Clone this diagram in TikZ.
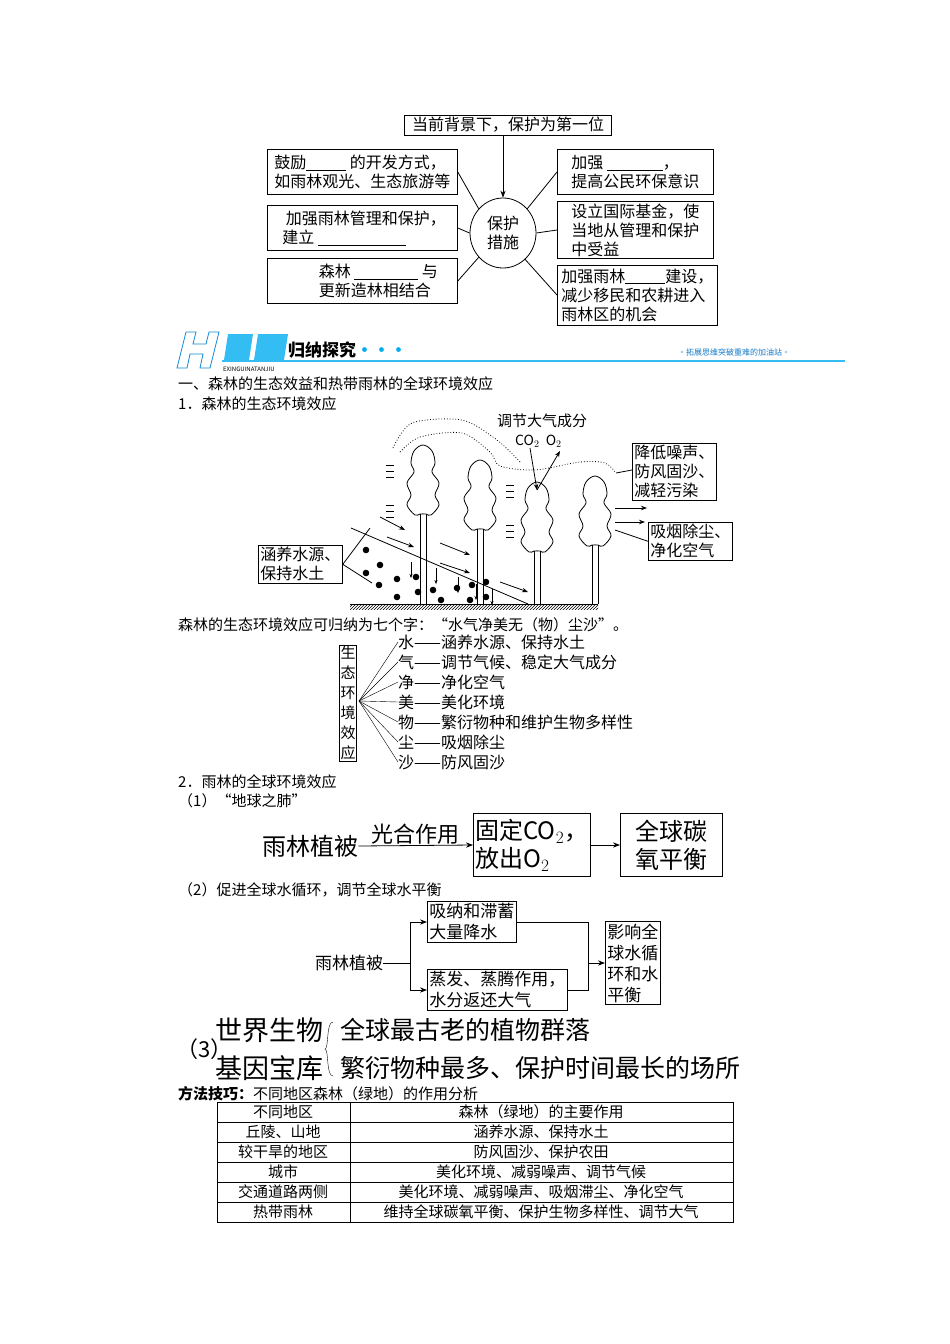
\documentclass[tikz,border=0pt]{standalone}
\usepackage{fontspec}
\setmainfont{Noto Sans CJK SC}
\usetikzlibrary{arrows.meta,shapes.geometric,patterns}
\newcommand\blank[1]{\rule[-2pt]{#1pt}{0.6pt}}
\newcommand\drawtree[3]{%
\begin{scope}[shift={(#1,#2)}]
\draw[thick] plot[smooth cycle,tension=0.6] coordinates{(0,0)(9,6)(12,18)(9,27)(16,38)(12,50)(16,60)(8,70)(3,69)(-3,69)(-8,70)(-16,60)(-12,50)(-16,38)(-9,27)(-12,18)(-9,6)};
\draw[thick] (-3,69)--(-3,#3) (3,69)--(3,#3);
\end{scope}}
\begin{document}
\begin{tikzpicture}[x=1pt,y=-1pt,
 bx/.style={draw,thick,inner sep=2pt,font=\fontsize{16}{19}\selectfont,align=left},
 tx/.style={anchor=west,inner sep=0pt,font=\fontsize{15}{17}\selectfont},
 big/.style={draw,thick,font=\fontsize{24}{28}\selectfont,align=left,inner sep=2pt},
 arr/.style={-{Stealth[length=7pt]},thick}]
\useasboundingbox[fill=white] (0,0) rectangle (950,1344);
% ---- top diagram
\node[bx,minimum width=207pt,minimum height=20pt] (top) at (508,125) {当前背景下，保护为第一位};
\node[draw,thick,ellipse,minimum width=66pt,minimum height=70pt,inner sep=0pt,align=center,font=\fontsize{16}{19}\selectfont] (c) at (503,233) {保护\\措施};
\draw[arr] (top.south -| c) -- (c.north);
\node[bx,minimum width=190pt,minimum height=45pt,anchor=west] (l1) at (267,172) {鼓励\blank{40} 的开发方式，\\如雨林观光、生态旅游等};
\node[bx,minimum width=190pt,minimum height=45pt,anchor=west] (l2) at (267,228) {\ \ 加强雨林管理和保护，\\ \ 建立\ \blank{88}};
\node[bx,minimum width=190pt,minimum height=45pt,anchor=west] (l3) at (267,281) {\qquad 森林\ \blank{64}\ 与\\\qquad 更新造林相结合};
\node[bx,minimum width=156pt,minimum height=45pt,anchor=west] (r1) at (557,172) {加强\ \blank{56}，\\提高公民环保意识};
\node[bx,minimum width=156pt,minimum height=56pt,anchor=west] (r2) at (557,230) {设立国际基金，使\\当地从管理和保护\\中受益};
\node[bx,minimum width=160pt,minimum height=60pt,anchor=west] (r3) at (557,295) {加强雨林\blank{40}建设，\\减少移民和农耕进入\\雨林区的机会};
\draw[thick] (l1.east)--(c.135) (l2.east)--(c.west) (l3.east)--(c.225)
 (r1.west)--(c.45) (r2.west)--(c.east) (r3.west)--(c.-50);
% ---- banner
\draw[cyan!70!blue,thick] (186,332)--(196,332)--(193,344)--(206,344)--(209,332)--(219,332)--(210,368)--(200,368)--(203,354)--(190,354)--(187,368)--(177,368)--cycle;
\fill[cyan!80!white] (228,334) -- (253,334) -- (249,360) -- (224,360) -- cycle;
\fill[cyan!80!white] (258,334) -- (288,334) -- (284,360) -- (254,360) -- cycle;
\node[tx,font=\fontsize{17}{17}\selectfont\bfseries\itshape] (b1) at (288,350) {归纳探究\textcolor{cyan}{•••}};
\draw[cyan!80!white,line width=1.6pt] (222,361) -- (845,361);
\node[tx,font=\fontsize{6}{6}\selectfont\itshape] (b2) at (223,369) {EXINGUINATANJIU};
\node[tx,font=\fontsize{8}{8}\selectfont\itshape,text=cyan!60!blue] (b3) at (678,352) {◦拓展思维突破重难的加油站◦};
% ---- section 1 text
\node[tx] (s1) at (178,384) {一、森林的生态效益和热带雨林的全球环境效应};
\node[tx] (s2) at (178,404) {1．森林的生态环境效应};
% ---- forest drawing
\draw[dotted,thick] plot[smooth] coordinates{(393,448)(412,423)(462,420)(497,440)(520,462)};
\draw[dotted,thick] plot[smooth] coordinates{(400,452)(420,437)(462,433)(490,452)(500,466)(535,470)(580,462)(605,463)(616,473)};
\fill[pattern=north east lines] (350,604) rectangle (598,609);
\draw[thick] (350,604)--(598,604);
\draw[thick] (351,528)--(528,604);
\drawtree{423}{445}{160}
\drawtree{480}{460}{144}
\drawtree{537}{482}{122}
\drawtree{595}{476}{128}
\foreach \p in {(366,550),(380,565),(366,573),(379,585),(397,579),(416,577),(397,597),(418,592),(433,590),(441,600),(457,588),(472,585),(470,600),(486,597),(486,582)} \fill \p circle (3.3);
\foreach \x/\y in {411/578,436/584,458/593,476/600,492/605} {\draw[-{Stealth[length=4pt]}] (\x,\y-16)--(\x,\y);}
\foreach \a/\b/\c/\d in {380/517/405/530,387/537/414/547,440/543/470/555,440/563/470/573,500/582/528/592} \draw[-{Stealth[length=6pt]},thick] (\a,\b)--(\c,\d);
\foreach \x/\y in {390/465,390/505,510/485,510/525} {\draw (\x-4,\y)--(\x+4,\y) (\x-4,\y+6)--(\x+4,\y+6) (\x-4,\y+12)--(\x+4,\y+12);}
\node[tx,font=\fontsize{15}{17}\selectfont] (g1) at (497,421) {调节大气成分};
\node[tx,font=\fontsize{14}{16}\selectfont] (g2) at (515,441) {CO$_2$\ \ O$_2$};
\draw[-{Stealth[length=6pt]},thick] (530,448)--(537,490);
\draw[-{Stealth[length=6pt]},thick] (537,490)--(560,451);
\node[bx,anchor=north west,font=\fontsize{16}{19}\selectfont] (n1) at (632,443) {降低噪声、\\防风固沙、\\减轻污染};
\node[bx,anchor=north west,font=\fontsize{16}{19}\selectfont] (n2) at (648,522) {吸烟除尘、\\净化空气};
\node[bx,anchor=north west,font=\fontsize{16}{19}\selectfont] (n3) at (258,545) {涵养水源、\\保持水土};
\draw[thick] (616,473)--(n1.west|-616,470);
\draw[-{Stealth[length=6pt]},thick] (615,508)--(647,508);
\draw[-{Stealth[length=6pt]},thick] (615,522)--(645,522);
\draw[thick] (615,530)--(n2.west);
\draw[thick] (n3.east)--(370,528) (n3.east)--(372,583);
% ---- 7 characters
\node[tx] (s3) at (178,625) {森林的生态环境效应可归纳为七个字：“水气净美无（物）尘沙”。};
\node[draw,thick,inner sep=1pt,align=center,font=\fontsize{15}{20}\selectfont] (v) at (348,703) {生\\态\\环\\境\\效\\应};
\coordinate (f) at (359,701);
\foreach \i/\t in {0/水——涵养水源、保持水土,1/气——调节气候、稳定大气成分,2/净——净化空气,3/美——美化环境,4/物——繁衍物种和维护生物多样性,5/尘——吸烟除尘,6/沙——防风固沙} {
 \node[tx,font=\fontsize{16}{18}\selectfont] (e\i) at (398,642+20*\i) {\t};
 \draw (f) -- (e\i.west);}
% ---- section 2
\node[tx] (s4) at (178,782) {2．雨林的全球环境效应};
\node[tx] (s5) at (178,801) {（1）“地球之肺”};
\node[tx,font=\fontsize{24}{26}\selectfont] (p1) at (262,846) {雨林植被};
\node[big,minimum width=115pt,minimum height=63pt,anchor=west] (p2) at (473,845) {固定CO$_2$，\\放出O$_2$};
\node[big,minimum width=102pt,minimum height=63pt,anchor=west,align=center] (p3) at (620,845) {全球碳\\氧平衡};
\draw[arr] (p1.east)--(p2.west) node[midway,above,font=\fontsize{22}{24}\selectfont,inner sep=1pt] {光合作用};
\draw[arr] (p2.east)--(p3.west);
\node[tx] (s6) at (178,890) {（2）促进全球水循环，调节全球水平衡};
\node[tx,font=\fontsize{17}{19}\selectfont] (w0) at (315,963) {雨林植被};
\node[bx,anchor=west,font=\fontsize{17}{21}\selectfont] (w1) at (427,922) {吸纳和滞蓄\\大量降水};
\node[bx,anchor=west,font=\fontsize{17}{21}\selectfont] (w2) at (427,990) {蒸发、蒸腾作用，\\水分返还大气};
\node[bx,anchor=west,font=\fontsize{17}{21}\selectfont] (w3) at (605,963) {影响全\\球水循\\环和水\\平衡};
\draw[thick] (w0.east)--(410,963);
\draw[arr] (410,963)|-(w1.west);
\draw[arr] (410,963)|-(w2.west);
\draw[thick] (w1.east)-|(588,963) (w2.east)-|(588,963);
\draw[arr] (588,963)--(w3.west);
\node[tx,font=\fontsize{22}{24}\selectfont] (t0) at (176,1049) {（3）};
\node[tx,font=\fontsize{27}{29}\selectfont] (t1) at (215,1030) {世界生物};
\node[tx,font=\fontsize{27}{29}\selectfont] (t2) at (215,1068) {基因宝库};
\draw (333,1022) .. controls (326,1022) and (329,1048) .. (325,1049) .. controls (329,1050) and (326,1076) .. (333,1076);
\node[tx,font=\fontsize{25}{27}\selectfont] (t3) at (340,1030) {全球最古老的植物群落};
\node[tx,font=\fontsize{25}{27}\selectfont] (t4) at (340,1068) {繁衍物种最多、保护时间最长的场所};
% ---- table
\node[tx] (s7) at (178,1094) {\textbf{方法技巧：}不同地区森林（绿地）的作用分析};
\draw (217,1102) rectangle (733,1222);
\foreach \y in {1122,1142,1162,1182,1202} \draw (217,\y)--(733,\y);
\draw (350,1102)--(350,1222);
\foreach \i/\a/\b in {0/不同地区/森林（绿地）的主要作用,1/丘陵、山地/涵养水源、保持水土,2/较干旱的地区/防风固沙、保护农田,3/城市/美化环境、减弱噪声、调节气候,4/交通道路两侧/美化环境、减弱噪声、吸烟滞尘、净化空气,5/热带雨林/维持全球碳氧平衡、保护生物多样性、调节大气} {
 \node[inner sep=0pt,font=\fontsize{15}{17}\selectfont] (ta\i) at (283,1112+20*\i) {\a};
 \node[inner sep=0pt,font=\fontsize{15}{17}\selectfont] (tb\i) at (541,1112+20*\i) {\b};}
\end{tikzpicture}
\end{document}
